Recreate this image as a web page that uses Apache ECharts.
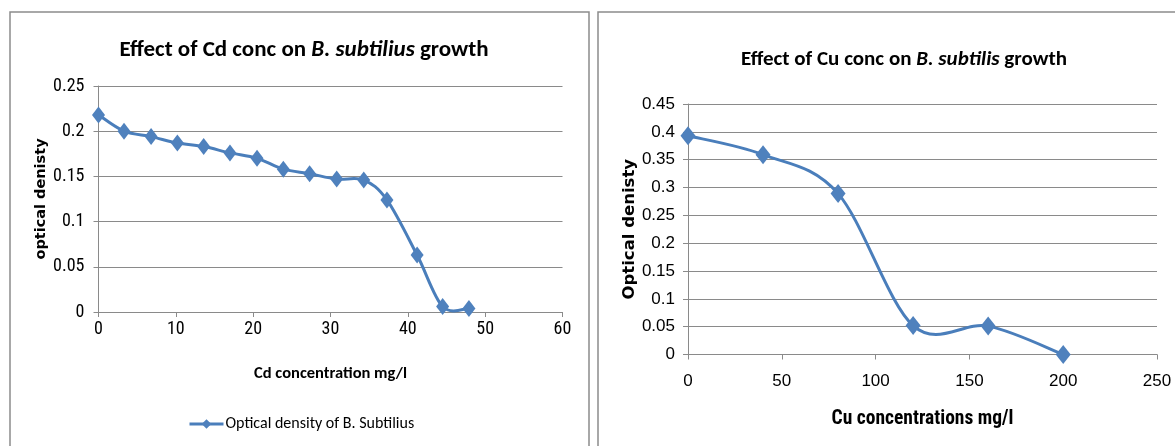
<!DOCTYPE html>
<html><head><meta charset="utf-8">
<script src="https://cdn.jsdelivr.net/npm/echarts@6/dist/echarts.min.js"></script>
<style>html,body{margin:0;padding:0;background:#fff}#c{width:1175px;height:446px}</style>
</head><body><div id="c"></div>
<script>
// Left chart: Cd
const cdConc = [0, 3.3, 6.8, 10.2, 13.6, 17.0, 20.5, 23.9, 27.3, 30.8, 34.3, 37.3, 41.2, 44.5, 47.9];
const cdOD   = [0.218, 0.200, 0.194, 0.187, 0.183, 0.176, 0.170, 0.158, 0.153, 0.147, 0.146, 0.124, 0.063, 0.006, 0.004];
// Right chart: Cu
const cuConc = [0, 40, 80, 120, 160, 200];
const cuOD   = [0.393, 0.359, 0.289, 0.052, 0.051, 0.0];

const cdSeriesName = 'Optical density of B. Subtilius';
const cuSeriesName = 'Optical density (Cu)';
const blue = '#4a7ebb', mk = '#4f81bd', grid = '#8a8a8a';
const calibri = 'Carlito, "Open Sans", sans-serif';
const narrow = '"Roboto Condensed", Roboto, sans-serif';
const arial = '"Liberation Sans", Arial, sans-serif';

// Excel-style smoothed line (Catmull-Rom bezier through the data points, via the axes' scales)
function smoothLine(xs, ys, xi, yi, name) {
  return {
    name: name + ' line', type: 'custom', xAxisIndex: xi, yAxisIndex: yi, z: 2, silent: true,
    data: xs.map((x, i) => [x, ys[i]]),
    renderItem: function (params, api) {
      const i = params.dataIndex, n = xs.length;
      if (i >= n - 1) return null;
      const P = k => api.coord([xs[Math.max(0, Math.min(n - 1, k))], ys[Math.max(0, Math.min(n - 1, k))]]);
      const p0 = P(i - 1), p1 = P(i), p2 = P(i + 1), p3 = P(i + 2);
      return {
        type: 'bezierCurve',
        shape: {
          x1: p1[0], y1: p1[1], x2: p2[0], y2: p2[1],
          cpx1: p1[0] + (p2[0] - p0[0]) / 6, cpy1: p1[1] + (p2[1] - p0[1]) / 6,
          cpx2: p2[0] - (p3[0] - p1[0]) / 6, cpy2: p2[1] - (p3[1] - p1[1]) / 6
        },
        style: {stroke: blue, lineWidth: 3, fill: null, lineCap: 'round'}
      };
    }
  };
}

const chart = echarts.init(document.getElementById('c'), null, {renderer: 'canvas'});
function axisCommon(font, size, margin){
  return {
    axisLine: {show: true, lineStyle: {color: grid, width: 1}},
    axisTick: {show: true, length: 5, lineStyle: {color: grid}},
    splitLine: {show: false},
    axisLabel: {color: '#000', fontFamily: font, fontSize: size, margin: margin}
  };
}
chart.setOption({
  animation: false,
  title: [
    {left: 299, top: 34, textAlign: 'center',
     text: '{n|Effect of Cd conc on }{i|B. subtilius}{n| growth}',
     textStyle: {rich: {
       n: {fontFamily: calibri, fontWeight: 'bold', fontSize: 23, color: '#000'},
       i: {fontFamily: calibri, fontWeight: 'bold', fontStyle: 'italic', fontSize: 23, color: '#000'}}}},
    {left: 899, top: 44, textAlign: 'center',
     text: '{n|Effect of Cu conc on }{i|B. subtilis}{n| growth}',
     textStyle: {rich: {
       n: {fontFamily: calibri, fontWeight: 'bold', fontSize: 21, color: '#000'},
       i: {fontFamily: calibri, fontWeight: 'bold', fontStyle: 'italic', fontSize: 21, color: '#000'}}}}
  ],
  legend: {
    data: [cdSeriesName], left: 183, top: 411, itemWidth: 34, itemHeight: 12, itemGap: 4,
    lineStyle: {color: blue, width: 3, opacity: 1},
    textStyle: {fontFamily: calibri, fontSize: 16, color: '#000', padding: [0, 0, 0, -3]}
  },
  graphic: [
    {type: 'rect', shape: {x: 10, y: 12, width: 579, height: 460}, style: {fill: 'none', stroke: '#8c8c8c', lineWidth: 1.5}, silent: true},
    {type: 'rect', shape: {x: 598, y: 12, width: 600, height: 460}, style: {fill: 'none', stroke: '#8c8c8c', lineWidth: 1.5}, silent: true}
  ],
  grid: [
    {left: 98.5, top: 86, right: 612.5, bottom: 134},
    {left: 688, top: 104, right: 18, bottom: 91.5}
  ],
  xAxis: [
    Object.assign(axisCommon(narrow, 18, 8), {type: 'value', gridIndex: 0, min: 0, max: 60, interval: 10,
      name: 'Cd concentration mg/l', nameLocation: 'middle', nameGap: 53,
      nameTextStyle: {fontFamily: calibri, fontWeight: 'bold', fontSize: 16.5, color: '#000'}}),
    Object.assign(axisCommon(arial, 17, 18), {type: 'value', gridIndex: 1, min: 0, max: 250, interval: 50,
      name: 'Cu concentrations mg/l', nameLocation: 'middle', nameGap: 55,
      nameTextStyle: {fontFamily: narrow, fontWeight: 'bold', fontSize: 19.5, color: '#000'}})
  ],
  yAxis: [
    Object.assign(axisCommon(narrow, 18, 14), {type: 'value', gridIndex: 0, min: 0, max: 0.25, interval: 0.05,
      splitLine: {show: true, lineStyle: {color: grid, width: 1}},
      name: 'optical denisty', nameLocation: 'middle', nameRotate: 90, nameGap: 50,
      nameTextStyle: {fontFamily: '"DejaVu Sans", sans-serif', fontWeight: 'bold', fontSize: 14.5, color: '#000'}}),
    Object.assign(axisCommon(arial, 17, 13), {type: 'value', gridIndex: 1, min: 0, max: 0.45, interval: 0.05,
      splitLine: {show: true, lineStyle: {color: grid, width: 1}},
      name: 'Optical denisty', nameLocation: 'middle', nameRotate: 90, nameGap: 48,
      nameTextStyle: {fontFamily: '"DejaVu Sans", sans-serif', fontWeight: 'bold', fontSize: 16.5, color: '#000'}})
  ],
  series: [
    smoothLine(cdConc, cdOD, 0, 0, cdSeriesName),
    {name: cdSeriesName, type: 'line', xAxisIndex: 0, yAxisIndex: 0, z: 3,
     data: cdConc.map((x, i) => [x, cdOD[i]]),
     symbol: 'diamond', symbolSize: [13, 17],
     lineStyle: {color: blue, width: 3, opacity: 0}, itemStyle: {color: mk}},
    smoothLine(cuConc, cuOD, 1, 1, cuSeriesName),
    {name: cuSeriesName, type: 'line', xAxisIndex: 1, yAxisIndex: 1, z: 3,
     data: cuConc.map((x, i) => [x, cuOD[i]]),
     symbol: 'diamond', symbolSize: [15, 19],
     lineStyle: {color: blue, width: 3, opacity: 0}, itemStyle: {color: mk}}
  ]
});
</script></body></html>
